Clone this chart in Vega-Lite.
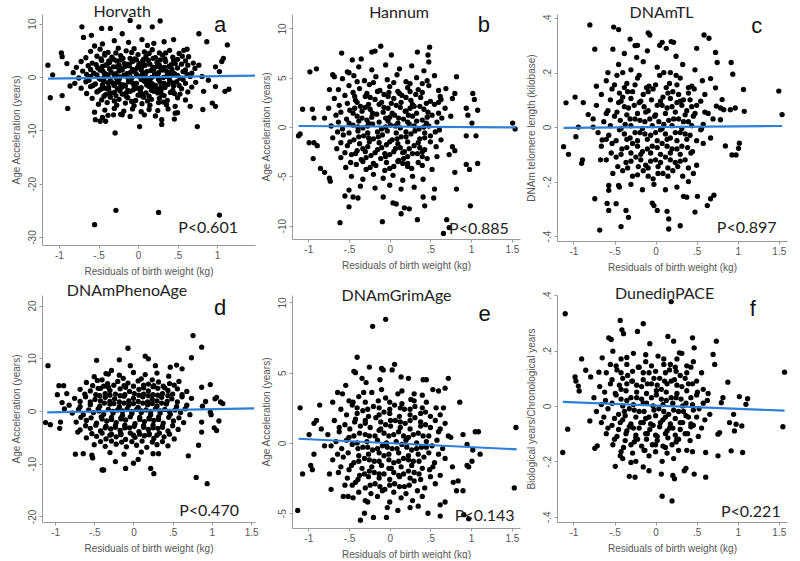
{
"$schema": "https://vega.github.io/schema/vega-lite/v6.json",
"background": "white",
"padding": {"left": 10, "top": 4, "right": 0, "bottom": 0},
"config": {
 "view": {"stroke": null},
 "circle": {"size": 28, "color": "#000", "opacity": 1},
 "axis": {"grid": false, "domainColor": "#9a9a9a", "tickColor": "#9a9a9a", "tickSize": 3, "labelColor": "#555", "titleColor": "#555", "labelFont": "Liberation Sans", "titleFont": "Liberation Sans", "labelFontSize": 10, "titleFontSize": 10, "titleFontWeight": "normal", "labelPadding": 2, "titlePadding": 6, "labelExpr": "replace(replace(datum.label, '0.', '.'), '\u2212', '-')", "labelOverlap": false, "labelFlush": false},
 "axisY": {"labelAngle": -90, "labelAlign": "center", "labelBaseline": "bottom"}
},
"datasets": {
"a": [{"x":-1.14,"y":2.2},{"x":-1.08,"y":0.4},{"x":-1.11,"y":-3.9},{"x":-0.97,"y":4.5},{"x":-0.96,"y":3.8},{"x":-0.96,"y":-3.5},{"x":-0.89,"y":-5.9},{"x":-0.9,"y":2.5},{"x":-0.86,"y":-1.7},{"x":-0.71,"y":9.4},{"x":-0.69,"y":7.4},{"x":-0.59,"y":7.8},{"x":-0.46,"y":9.1},{"x":-0.35,"y":9.1},{"x":-0.31,"y":-7.1},{"x":-0.29,"y":-10.5},{"x":-0.2,"y":8.1},{"x":-0.1,"y":10.6},{"x":0.01,"y":9.4},{"x":0.02,"y":-9.3},{"x":0.18,"y":9.4},{"x":0.28,"y":10.5},{"x":0.3,"y":-8},{"x":0.3,"y":-8.9},{"x":0.45,"y":7},{"x":0.46,"y":-7.9},{"x":0.47,"y":-6.8},{"x":0.58,"y":5},{"x":0.66,"y":-5.5},{"x":0.75,"y":-9.3},{"x":0.77,"y":8.1},{"x":0.87,"y":6.6},{"x":0.83,"y":-2.7},{"x":0.82,"y":-6.1},{"x":0.94,"y":-4.9},{"x":0.98,"y":-5.5},{"x":0.98,"y":1.9},{"x":1.03,"y":1},{"x":1.06,"y":2.9},{"x":1.08,"y":3.5},{"x":1.13,"y":6},{"x":1.15,"y":-2.3},{"x":1.1,"y":-2.7},{"x":0.98,"y":-1.8},{"x":0.89,"y":-0.6},{"x":0.81,"y":0.1},{"x":0.77,"y":2.2},{"x":0.64,"y":3.8},{"x":-0.55,"y":-27.7},{"x":-0.28,"y":-25},{"x":0.26,"y":-25.4},{"x":1.03,"y":-25.9},{"x":-0.54,"y":-8},{"x":-0.48,"y":-8.3},{"x":-0.41,"y":-8.3},{"x":-0.2,"y":-7.1},
{"x":-0.45,"y":6.2},{"x":-0.3,"y":6.8},{"x":-0.12,"y":6.5},{"x":0.05,"y":7},{"x":0.2,"y":6.3},{"x":0.33,"y":6.6},{"x":-0.55,"y":5.8},{"x":0.12,"y":5.9},
{"x":-0.6,"y":4.8},{"x":-0.48,"y":5.2},{"x":-0.38,"y":4.6},{"x":-0.25,"y":5.4},{"x":-0.15,"y":4.9},{"x":-0.05,"y":5.3},{"x":0.08,"y":4.7},{"x":0.18,"y":5.1},{"x":0.27,"y":4.5},{"x":0.4,"y":5},{"x":0.52,"y":4.4},{"x":0.62,"y":5.2},
{"x":-0.66,"y":3.6},{"x":-0.52,"y":3.9},{"x":-0.42,"y":4.1},{"x":-0.33,"y":3.7},{"x":-0.22,"y":4},{"x":-0.1,"y":3.5},{"x":0,"y":4.2},{"x":0.1,"y":3.8},{"x":0.22,"y":3.6},{"x":0.31,"y":4.1},{"x":0.44,"y":3.7},{"x":0.56,"y":3.9},{"x":-0.02,"y":3.2},
{"x":-0.72,"y":2.9},{"x":-0.58,"y":2.6},{"x":-0.46,"y":3.1},{"x":-0.36,"y":2.7},{"x":-0.27,"y":3},{"x":-0.17,"y":2.5},{"x":-0.07,"y":2.9},{"x":0.03,"y":2.6},{"x":0.13,"y":3.1},{"x":0.24,"y":2.7},{"x":0.35,"y":2.9},{"x":0.47,"y":2.5},{"x":0.6,"y":3},{"x":0.7,"y":2.6},
{"x":-0.78,"y":1.8},{"x":-0.63,"y":2.1},{"x":-0.51,"y":1.7},{"x":-0.41,"y":2.2},{"x":-0.31,"y":1.9},{"x":-0.21,"y":1.6},{"x":-0.11,"y":2.1},{"x":-0.01,"y":1.7},{"x":0.09,"y":2.2},{"x":0.19,"y":1.8},{"x":0.29,"y":1.5},{"x":0.39,"y":2},{"x":0.5,"y":1.7},{"x":0.63,"y":2.2},{"x":0.72,"y":1.6},
{"x":-0.82,"y":0.8},{"x":-0.7,"y":1.1},{"x":-0.56,"y":0.7},{"x":-0.45,"y":1.2},{"x":-0.34,"y":0.9},{"x":-0.24,"y":1.1},{"x":-0.14,"y":0.6},{"x":-0.04,"y":1},{"x":0.06,"y":0.7},{"x":0.16,"y":1.2},{"x":0.26,"y":0.8},{"x":0.36,"y":1.1},{"x":0.46,"y":0.6},{"x":0.57,"y":1},{"x":0.68,"y":0.7},
{"x":-0.75,"y":-0.2},{"x":-0.6,"y":0.1},{"x":-0.49,"y":-0.3},{"x":-0.38,"y":0.2},{"x":-0.28,"y":-0.1},{"x":-0.18,"y":0.3},{"x":-0.08,"y":-0.2},{"x":0.02,"y":0.1},{"x":0.12,"y":-0.3},{"x":0.22,"y":0.2},{"x":0.32,"y":-0.1},{"x":0.42,"y":0.3},{"x":0.53,"y":-0.2},{"x":0.66,"y":0.1},
{"x":-0.8,"y":-1.2},{"x":-0.66,"y":-0.9},{"x":-0.54,"y":-1.3},{"x":-0.43,"y":-0.8},{"x":-0.32,"y":-1.1},{"x":-0.22,"y":-1.4},{"x":-0.12,"y":-0.9},{"x":-0.02,"y":-1.2},{"x":0.08,"y":-0.8},{"x":0.18,"y":-1.3},{"x":0.28,"y":-1},{"x":0.38,"y":-1.4},{"x":0.49,"y":-0.9},{"x":0.6,"y":-1.2},{"x":0.73,"y":-1},
{"x":-0.72,"y":-2.1},{"x":-0.6,"y":-1.8},{"x":-0.47,"y":-2.3},{"x":-0.37,"y":-1.9},{"x":-0.26,"y":-2.2},{"x":-0.16,"y":-1.7},{"x":-0.06,"y":-2.4},{"x":0.04,"y":-2},{"x":0.14,"y":-1.8},{"x":0.24,"y":-2.3},{"x":0.34,"y":-2},{"x":0.45,"y":-1.7},{"x":0.55,"y":-2.2},{"x":0.68,"y":-1.9},
{"x":-0.65,"y":-3.1},{"x":-0.52,"y":-2.8},{"x":-0.41,"y":-3.3},{"x":-0.3,"y":-2.9},{"x":-0.2,"y":-3.2},{"x":-0.1,"y":-2.7},{"x":0,"y":-3.4},{"x":0.1,"y":-3},{"x":0.2,"y":-2.7},{"x":0.3,"y":-3.3},{"x":0.41,"y":-2.9},{"x":0.53,"y":-3.2},{"x":0.63,"y":-2.8},
{"x":-0.58,"y":-4},{"x":-0.46,"y":-4.3},{"x":-0.35,"y":-3.8},{"x":-0.24,"y":-4.2},{"x":-0.13,"y":-3.9},{"x":-0.03,"y":-4.4},{"x":0.07,"y":-3.8},{"x":0.17,"y":-4.2},{"x":0.27,"y":-4},{"x":0.37,"y":-4.4},{"x":0.5,"y":-3.9},{"x":0.6,"y":-4.3},
{"x":-0.5,"y":-5.1},{"x":-0.39,"y":-4.8},{"x":-0.27,"y":-5.3},{"x":-0.16,"y":-4.9},{"x":-0.05,"y":-5.4},{"x":0.05,"y":-5},{"x":0.15,"y":-5.3},{"x":0.26,"y":-4.8},{"x":0.36,"y":-5.2},{"x":0.47,"y":-5.5},
{"x":-0.42,"y":-6.2},{"x":-0.3,"y":-5.9},{"x":-0.18,"y":-6.4},{"x":-0.07,"y":-6},{"x":0.04,"y":-6.5},{"x":0.14,"y":-6.1},{"x":0.25,"y":-6.3},{"x":0.38,"y":-6},{"x":-0.55,"y":-6.6},{"x":0.5,"y":-6.7},
{"x":-0.38,"y":-7.2},{"x":-0.22,"y":-7},{"x":-0.1,"y":-7.4},{"x":0.08,"y":-7.1},{"x":0.22,"y":-7.3},{"x":-0.45,"y":-7.6},
{"x":-0.47,"y":3.4},{"x":-0.31,"y":3.3},{"x":-0.19,"y":3.5},{"x":-0.04,"y":3.4},{"x":0.07,"y":3.3},{"x":0.19,"y":3.5},{"x":0.34,"y":3.4},{"x":0.5,"y":3.3},
{"x":-0.53,"y":2.3},{"x":-0.39,"y":2.4},{"x":-0.24,"y":2.2},{"x":-0.12,"y":2.4},{"x":0.01,"y":2.3},{"x":0.15,"y":2.4},{"x":0.27,"y":2.2},{"x":0.42,"y":2.3},{"x":0.55,"y":2.4},
{"x":-0.6,"y":1.4},{"x":-0.48,"y":1.3},{"x":-0.36,"y":1.5},{"x":-0.2,"y":1.3},{"x":-0.07,"y":1.4},{"x":0.04,"y":1.3},{"x":0.2,"y":1.5},{"x":0.31,"y":1.3},{"x":0.43,"y":1.4},{"x":0.6,"y":1.3},
{"x":-0.65,"y":0.5},{"x":-0.52,"y":0.4},{"x":-0.4,"y":0.5},{"x":-0.3,"y":0.3},{"x":-0.15,"y":0.4},{"x":-0.02,"y":0.5},{"x":0.09,"y":0.4},{"x":0.25,"y":0.5},{"x":0.37,"y":0.4},{"x":0.5,"y":0.3},{"x":0.62,"y":0.5},
{"x":-0.62,"y":-0.6},{"x":-0.47,"y":-0.5},{"x":-0.35,"y":-0.7},{"x":-0.24,"y":-0.5},{"x":-0.1,"y":-0.6},{"x":0.04,"y":-0.5},{"x":0.15,"y":-0.7},{"x":0.26,"y":-0.5},{"x":0.4,"y":-0.6},{"x":0.57,"y":-0.5},
{"x":-0.57,"y":-1.6},{"x":-0.45,"y":-1.5},{"x":-0.3,"y":-1.6},{"x":-0.18,"y":-1.5},{"x":-0.05,"y":-1.6},{"x":0.11,"y":-1.5},{"x":0.22,"y":-1.6},{"x":0.36,"y":-1.5},{"x":0.52,"y":-1.6},
{"x":-0.5,"y":-2.6},{"x":-0.37,"y":-2.5},{"x":-0.23,"y":-2.6},{"x":-0.13,"y":-2.5},{"x":0.03,"y":-2.6},{"x":0.17,"y":-2.5},{"x":0.29,"y":-2.6},{"x":0.44,"y":-2.5},
{"x":-0.43,"y":-3.6},{"x":-0.28,"y":-3.5},{"x":-0.15,"y":-3.6},{"x":0.04,"y":-3.5},{"x":0.14,"y":-3.6},{"x":0.33,"y":-3.5},
{"x":-0.42,"y":4.4},{"x":-0.28,"y":4.5},{"x":-0.08,"y":4.6},{"x":0.14,"y":4.4},{"x":0.35,"y":4.5},{"x":-0.37,"y":3},{"x":-0.22,"y":3.2},{"x":0.06,"y":3},{"x":0.28,"y":3.2},{"x":0.45,"y":3.1},{"x":-0.45,"y":2},{"x":-0.27,"y":1.9},{"x":-0.16,"y":2},{"x":0.05,"y":1.9},{"x":0.24,"y":2},{"x":0.33,"y":1.8},{"x":-0.43,"y":0.8},{"x":-0.28,"y":0.6},{"x":-0.1,"y":0.8},{"x":0.11,"y":1},{"x":0.21,"y":0.6},{"x":0.41,"y":0.8},{"x":-0.43,"y":-0.1},{"x":-0.23,"y":0},{"x":-0.13,"y":-0.1},{"x":0.07,"y":0},{"x":0.17,"y":-0.1},{"x":0.37,"y":0.1},{"x":-0.38,"y":-1.1},{"x":-0.27,"y":-1},{"x":-0.07,"y":-1.1},{"x":0.13,"y":-1.1},{"x":0.33,"y":-1.2},{"x":0.44,"y":-1.1},{"x":-0.42,"y":-2.1},{"x":-0.21,"y":-2},{"x":-0.01,"y":-2.1},{"x":0.19,"y":-2.1},{"x":0.29,"y":-1.9},{"x":-0.35,"y":-3.1},{"x":-0.15,"y":-3},{"x":0.05,"y":-3.2},{"x":0.25,"y":-3},{"x":0.46,"y":-3.1},{"x":-0.3,"y":-4.5},{"x":-0.08,"y":-4.6},{"x":0.12,"y":-4.5},{"x":0.32,"y":-4.7}],
"b": [{"x":-1.12,"y":-0.9},{"x":-1.1,"y":-0.7},{"x":-1.07,"y":1.8},{"x":-0.95,"y":1.8},{"x":-0.98,"y":5.6},{"x":-0.9,"y":5.9},{"x":-0.93,"y":0.9},{"x":-0.99,"y":-1.6},{"x":-0.93,"y":-1.6},{"x":-0.94,"y":-3.2},{"x":-0.89,"y":-1.9},{"x":-0.85,"y":-4.2},{"x":-0.8,"y":-4.6},{"x":-0.74,"y":-5.2},{"x":-0.73,"y":-5.5},{"x":-0.74,"y":3.8},{"x":-0.7,"y":5.3},{"x":-0.68,"y":5.1},{"x":-0.61,"y":-9.7},{"x":-0.59,"y":7.5},{"x":-0.52,"y":5.6},{"x":-0.55,"y":-7},{"x":-0.5,"y":-8.1},{"x":-0.45,"y":-7.1},{"x":-0.39,"y":-7.2},{"x":-0.46,"y":6.8},{"x":-0.35,"y":6.9},{"x":-0.22,"y":7.6},{"x":-0.18,"y":7.7},{"x":-0.11,"y":8.2},{"x":-0.09,"y":-9.6},{"x":-0.08,"y":-7.1},{"x":0.02,"y":7.3},{"x":0.04,"y":-7.7},{"x":0.08,"y":-7.8},{"x":0.14,"y":-8.8},{"x":0.18,"y":-8.2},{"x":0.24,"y":-8.3},{"x":0.34,"y":7.6},{"x":0.34,"y":-9.4},{"x":0.41,"y":-7.1},{"x":0.43,"y":-8},{"x":0.49,"y":8.1},{"x":0.48,"y":6.6},{"x":0.47,"y":7.3},{"x":0.54,"y":-7.2},{"x":0.55,"y":-6.3},{"x":0.66,"y":-10.8},{"x":0.7,"y":-9.4},{"x":0.73,"y":-10.2},{"x":0.69,"y":3.9},{"x":0.63,"y":2.8},{"x":0.77,"y":2.9},{"x":0.8,"y":3.4},{"x":0.82,"y":5.1},{"x":0.8,"y":-4.6},{"x":0.82,"y":-6.3},{"x":0.94,"y":1.9},{"x":0.96,"y":1.2},{"x":0.94,"y":-0.9},{"x":0.98,"y":-4.3},{"x":0.94,"y":-3.8},{"x":0.99,"y":-8},{"x":1.02,"y":3.4},{"x":1.04,"y":2.8},{"x":1.08,"y":1.7},{"x":1.06,"y":-0.9},{"x":1.08,"y":-3.7},{"x":1.01,"y":0.4},{"x":1.51,"y":0.4},{"x":1.54,"y":-0.2},{"x":0.77,"y":-2},{"x":0.8,"y":-2.4},{"x":0.73,"y":-2.8},
{"x":-0.38,"y":6.1},{"x":-0.22,"y":5.8},{"x":-0.05,"y":6.3},{"x":0.12,"y":5.9},{"x":0.27,"y":6.2},{"x":0.42,"y":5.7},{"x":-0.5,"y":5.5},
{"x":-0.58,"y":4.9},{"x":-0.44,"y":5.2},{"x":-0.31,"y":4.7},{"x":-0.17,"y":5.1},{"x":-0.03,"y":4.8},{"x":0.09,"y":5.3},{"x":0.2,"y":4.6},{"x":0.33,"y":5},{"x":0.46,"y":4.7},{"x":0.55,"y":5.2},
{"x":-0.63,"y":3.8},{"x":-0.5,"y":4.2},{"x":-0.37,"y":3.9},{"x":-0.25,"y":4.3},{"x":-0.12,"y":3.7},{"x":0,"y":4.1},{"x":0.1,"y":3.6},{"x":0.22,"y":4},{"x":0.35,"y":3.8},{"x":0.48,"y":4.2},{"x":0.6,"y":3.7},
{"x":-0.68,"y":2.9},{"x":-0.55,"y":3.2},{"x":-0.42,"y":2.7},{"x":-0.3,"y":3.1},{"x":-0.18,"y":2.8},{"x":-0.07,"y":3.3},{"x":0.05,"y":2.9},{"x":0.15,"y":3.2},{"x":0.26,"y":2.7},{"x":0.38,"y":3},{"x":0.5,"y":2.6},{"x":0.62,"y":3.1},
{"x":-0.75,"y":1.9},{"x":-0.62,"y":2.2},{"x":-0.49,"y":1.7},{"x":-0.36,"y":2.1},{"x":-0.24,"y":1.8},{"x":-0.13,"y":2.3},{"x":-0.02,"y":1.9},{"x":0.08,"y":2.2},{"x":0.19,"y":1.6},{"x":0.3,"y":2.1},{"x":0.42,"y":1.8},{"x":0.55,"y":2.3},{"x":0.68,"y":1.9},
{"x":-0.8,"y":0.9},{"x":-0.66,"y":1.2},{"x":-0.53,"y":0.8},{"x":-0.4,"y":1.1},{"x":-0.28,"y":0.7},{"x":-0.16,"y":1.3},{"x":-0.05,"y":0.9},{"x":0.06,"y":1.2},{"x":0.17,"y":0.8},{"x":0.28,"y":1.1},{"x":0.4,"y":0.7},{"x":0.52,"y":1.2},{"x":0.64,"y":0.9},{"x":0.75,"y":1.1},
{"x":-0.72,"y":0.1},{"x":-0.58,"y":-0.2},{"x":-0.45,"y":0.2},{"x":-0.33,"y":-0.1},{"x":-0.21,"y":0.3},{"x":-0.1,"y":-0.2},{"x":0.01,"y":0.2},{"x":0.13,"y":-0.1},{"x":0.24,"y":0.3},{"x":0.36,"y":-0.2},{"x":0.48,"y":0.1},{"x":0.61,"y":-0.3},
{"x":-0.7,"y":-1.1},{"x":-0.57,"y":-0.8},{"x":-0.44,"y":-1.3},{"x":-0.32,"y":-0.9},{"x":-0.2,"y":-1.2},{"x":-0.09,"y":-0.8},{"x":0.03,"y":-1.3},{"x":0.14,"y":-1},{"x":0.26,"y":-0.7},{"x":0.37,"y":-1.2},{"x":0.5,"y":-0.9},{"x":0.63,"y":-1.3},
{"x":-0.65,"y":-2.2},{"x":-0.52,"y":-1.9},{"x":-0.4,"y":-2.4},{"x":-0.27,"y":-2},{"x":-0.15,"y":-2.3},{"x":-0.04,"y":-1.8},{"x":0.07,"y":-2.2},{"x":0.18,"y":-2.5},{"x":0.3,"y":-1.9},{"x":0.43,"y":-2.3},{"x":0.57,"y":-2},
{"x":-0.6,"y":-3.1},{"x":-0.47,"y":-2.8},{"x":-0.35,"y":-3.3},{"x":-0.23,"y":-2.9},{"x":-0.11,"y":-3.2},{"x":0,"y":-2.8},{"x":0.11,"y":-3.4},{"x":0.22,"y":-3},{"x":0.34,"y":-2.7},{"x":0.46,"y":-3.2},{"x":0.58,"y":-3},
{"x":-0.54,"y":-4.1},{"x":-0.41,"y":-3.8},{"x":-0.29,"y":-4.3},{"x":-0.17,"y":-3.9},{"x":-0.06,"y":-4.4},{"x":0.05,"y":-4},{"x":0.16,"y":-3.7},{"x":0.27,"y":-4.2},{"x":0.4,"y":-3.9},{"x":0.52,"y":-4.3},
{"x":-0.47,"y":-5},{"x":-0.33,"y":-5.3},{"x":-0.2,"y":-4.8},{"x":-0.08,"y":-5.2},{"x":0.04,"y":-4.9},{"x":0.16,"y":-5.4},{"x":0.28,"y":-5},{"x":0.41,"y":-5.3},
{"x":-0.36,"y":-6},{"x":-0.18,"y":-6.2},{"x":0,"y":-5.9},{"x":0.14,"y":-6.3},{"x":0.3,"y":-6.1},{"x":-0.5,"y":-6.4},
{"x":-0.45,"y":3.5},{"x":-0.28,"y":3.4},{"x":-0.15,"y":3.6},{"x":-0.01,"y":3.5},{"x":0.12,"y":3.4},{"x":0.25,"y":3.6},{"x":0.4,"y":3.5},
{"x":-0.52,"y":2.4},{"x":-0.4,"y":2.5},{"x":-0.26,"y":2.3},{"x":-0.1,"y":2.5},{"x":0.02,"y":2.4},{"x":0.14,"y":2.5},{"x":0.28,"y":2.3},{"x":0.45,"y":2.4},{"x":0.6,"y":2.5},
{"x":-0.6,"y":1.5},{"x":-0.45,"y":1.4},{"x":-0.34,"y":1.6},{"x":-0.21,"y":1.4},{"x":-0.08,"y":1.5},{"x":0.03,"y":1.4},{"x":0.2,"y":1.6},{"x":0.33,"y":1.4},{"x":0.47,"y":1.5},{"x":0.6,"y":1.4},
{"x":-0.63,"y":0.5},{"x":-0.5,"y":0.4},{"x":-0.38,"y":0.6},{"x":-0.26,"y":0.4},{"x":-0.13,"y":0.5},{"x":-0.02,"y":0.6},{"x":0.1,"y":0.4},{"x":0.22,"y":0.5},{"x":0.33,"y":0.6},{"x":0.45,"y":0.4},{"x":0.58,"y":0.5},
{"x":-0.64,"y":-0.5},{"x":-0.5,"y":-0.6},{"x":-0.39,"y":-0.4},{"x":-0.27,"y":-0.6},{"x":-0.15,"y":-0.5},{"x":-0.03,"y":-0.4},{"x":0.08,"y":-0.6},{"x":0.2,"y":-0.5},{"x":0.31,"y":-0.4},{"x":0.43,"y":-0.6},{"x":0.56,"y":-0.5},
{"x":-0.6,"y":-1.6},{"x":-0.49,"y":-1.5},{"x":-0.37,"y":-1.7},{"x":-0.25,"y":-1.5},{"x":-0.13,"y":-1.6},{"x":0,"y":-1.5},{"x":0.1,"y":-1.7},{"x":0.22,"y":-1.5},{"x":0.35,"y":-1.6},{"x":0.5,"y":-1.5},
{"x":-0.55,"y":-2.6},{"x":-0.42,"y":-2.7},{"x":-0.3,"y":-2.5},{"x":-0.18,"y":-2.6},{"x":-0.06,"y":-2.7},{"x":0.05,"y":-2.5},{"x":0.16,"y":-2.6},{"x":0.28,"y":-2.7},{"x":0.4,"y":-2.5},
{"x":-0.48,"y":-3.6},{"x":-0.33,"y":-3.5},{"x":-0.2,"y":-3.7},{"x":-0.04,"y":-3.6},{"x":0.1,"y":-3.5},{"x":0.22,"y":-3.7},{"x":0.35,"y":-3.6},
{"x":-0.4,"y":4.6},{"x":-0.2,"y":4.5},{"x":0.05,"y":4.5},{"x":0.25,"y":4.4},{"x":0.4,"y":4.4},{"x":-0.43,"y":3.1},{"x":-0.24,"y":3},{"x":-0.02,"y":3.1},{"x":0.2,"y":3},{"x":0.32,"y":3.3},{"x":-0.43,"y":1.9},{"x":-0.3,"y":2},{"x":-0.07,"y":2},{"x":0.13,"y":2},{"x":0.25,"y":1.9},{"x":0.37,"y":2.1},{"x":-0.34,"y":0.9},{"x":-0.22,"y":1},{"x":0,"y":1},{"x":0.11,"y":0.9},{"x":0.23,"y":1.2},{"x":0.46,"y":1},{"x":-0.39,"y":0},{"x":-0.27,"y":0.1},{"x":-0.05,"y":0},{"x":0.07,"y":0.1},{"x":0.3,"y":0.1},{"x":0.42,"y":0},{"x":-0.38,"y":-1},{"x":-0.26,"y":-1.1},{"x":-0.14,"y":-1},{"x":0.09,"y":-1.2},{"x":0.2,"y":-1},{"x":0.43,"y":-1.1},{"x":-0.33,"y":-2.2},{"x":-0.1,"y":-2.1},{"x":0.13,"y":-2.1},{"x":0.24,"y":-2.2},{"x":0.37,"y":-2.1},{"x":-0.29,"y":-3.1},{"x":-0.05,"y":-3},{"x":0.17,"y":-3.2},{"x":0.4,"y":-3},{"x":-0.24,"y":-4.1},{"x":0,"y":-4.2},{"x":0.22,"y":-4}],
"c": [{"x":-1.12,"y":-0.072},{"x":-1.06,"y":-0.1},{"x":-1.09,"y":0.089},{"x":-0.98,"y":0.11},{"x":-0.97,"y":-0.035},{"x":-0.94,"y":0},{"x":-0.9,"y":-0.133},{"x":-0.89,"y":-0.12},{"x":-0.88,"y":0.09},{"x":-0.82,"y":0.046},{"x":-0.8,"y":0.375},{"x":-0.74,"y":0.286},{"x":-0.76,"y":0},{"x":-0.74,"y":-0.263},{"x":-0.68,"y":-0.378},{"x":-0.72,"y":0.15},{"x":-0.65,"y":-0.047},{"x":-0.67,"y":-0.12},{"x":-0.57,"y":-0.214},{"x":-0.57,"y":-0.232},{"x":-0.59,"y":-0.28},{"x":-0.57,"y":-0.306},{"x":-0.51,"y":0.367},{"x":-0.45,"y":0.358},{"x":-0.52,"y":0.286},{"x":-0.48,"y":-0.281},{"x":-0.45,"y":-0.214},{"x":-0.42,"y":-0.365},{"x":-0.36,"y":-0.306},{"x":-0.33,"y":-0.331},{"x":-0.31,"y":0.323},{"x":-0.25,"y":0.299},{"x":-0.23,"y":0.256},{"x":-0.09,"y":0.346},{"x":-0.07,"y":0.338},{"x":-0.04,"y":-0.279},{"x":-0.02,"y":-0.288},{"x":0.02,"y":-0.306},{"x":0.08,"y":0.311},{"x":0.13,"y":0.289},{"x":0.16,"y":-0.374},{"x":0.16,"y":-0.337},{"x":0.14,"y":-0.309},{"x":0.19,"y":0.314},{"x":0.22,"y":0.311},{"x":0.3,"y":-0.362},{"x":0.34,"y":-0.254},{"x":0.38,"y":-0.257},{"x":0.48,"y":-0.312},{"x":0.5,"y":0.289},{"x":0.51,"y":-0.254},{"x":0.59,"y":0.338},{"x":0.65,"y":0.326},{"x":0.67,"y":0.178},{"x":0.63,"y":-0.288},{"x":0.67,"y":-0.263},{"x":0.71,"y":-0.25},{"x":0.73,"y":0.274},{"x":0.75,"y":0.237},{"x":0.81,"y":0.101},{"x":0.83,"y":0.064},{"x":0.85,"y":-0.069},{"x":0.92,"y":0.237},{"x":0.94,"y":0.194},{"x":0.91,"y":0.064},{"x":0.97,"y":0.07},{"x":0.93,"y":-0.102},{"x":0.98,"y":-0.102},{"x":1.01,"y":-0.078},{"x":1.02,"y":-0.059},{"x":1.07,"y":0.138},{"x":1.08,"y":0.058},{"x":1.5,"y":0.132},{"x":1.54,"y":0.046},{"x":0.73,"y":0.144},{"x":0.74,"y":0.077},{"x":0.79,"y":0.07},{"x":0.79,"y":0.027},
{"x":-0.45,"y":0.23},{"x":-0.3,"y":0.21},{"x":-0.15,"y":0.24},{"x":0.02,"y":0.22},{"x":0.18,"y":0.2},{"x":0.33,"y":0.23},{"x":0.48,"y":0.21},{"x":-0.58,"y":0.2},
{"x":-0.6,"y":0.17},{"x":-0.47,"y":0.19},{"x":-0.35,"y":0.16},{"x":-0.22,"y":0.18},{"x":-0.08,"y":0.15},{"x":0.05,"y":0.19},{"x":0.17,"y":0.16},{"x":0.3,"y":0.18},{"x":0.44,"y":0.15},{"x":0.57,"y":0.17},
{"x":-0.66,"y":0.12},{"x":-0.53,"y":0.14},{"x":-0.4,"y":0.11},{"x":-0.28,"y":0.13},{"x":-0.15,"y":0.12},{"x":-0.03,"y":0.14},{"x":0.09,"y":0.11},{"x":0.21,"y":0.13},{"x":0.34,"y":0.1},{"x":0.47,"y":0.14},{"x":0.6,"y":0.12},
{"x":-0.72,"y":0.08},{"x":-0.58,"y":0.06},{"x":-0.45,"y":0.09},{"x":-0.33,"y":0.07},{"x":-0.2,"y":0.09},{"x":-0.09,"y":0.06},{"x":0.02,"y":0.08},{"x":0.14,"y":0.07},{"x":0.26,"y":0.09},{"x":0.38,"y":0.06},{"x":0.5,"y":0.08},{"x":0.64,"y":0.05},
{"x":-0.76,"y":0.03},{"x":-0.63,"y":0.02},{"x":-0.5,"y":0.04},{"x":-0.37,"y":0.01},{"x":-0.25,"y":0.03},{"x":-0.13,"y":0.02},{"x":-0.01,"y":0.04},{"x":0.1,"y":0.01},{"x":0.22,"y":0.03},{"x":0.34,"y":0.02},{"x":0.46,"y":0.04},{"x":0.58,"y":0.01},{"x":0.7,"y":0.03},
{"x":-0.7,"y":-0.02},{"x":-0.57,"y":-0.03},{"x":-0.44,"y":-0.01},{"x":-0.31,"y":-0.04},{"x":-0.19,"y":-0.02},{"x":-0.06,"y":-0.03},{"x":0.06,"y":-0.01},{"x":0.18,"y":-0.04},{"x":0.3,"y":-0.02},{"x":0.42,"y":-0.03},{"x":0.55,"y":-0.01},{"x":0.67,"y":-0.04},
{"x":-0.66,"y":-0.07},{"x":-0.53,"y":-0.06},{"x":-0.41,"y":-0.08},{"x":-0.28,"y":-0.06},{"x":-0.16,"y":-0.09},{"x":-0.04,"y":-0.07},{"x":0.08,"y":-0.06},{"x":0.2,"y":-0.08},{"x":0.32,"y":-0.07},{"x":0.45,"y":-0.09},{"x":0.58,"y":-0.06},
{"x":-0.6,"y":-0.12},{"x":-0.48,"y":-0.11},{"x":-0.36,"y":-0.13},{"x":-0.24,"y":-0.11},{"x":-0.12,"y":-0.14},{"x":0,"y":-0.12},{"x":0.12,"y":-0.11},{"x":0.24,"y":-0.13},{"x":0.36,"y":-0.12},{"x":0.5,"y":-0.14},
{"x":-0.52,"y":-0.17},{"x":-0.4,"y":-0.16},{"x":-0.28,"y":-0.18},{"x":-0.15,"y":-0.16},{"x":-0.03,"y":-0.19},{"x":0.09,"y":-0.17},{"x":0.21,"y":-0.16},{"x":0.33,"y":-0.18},{"x":0.46,"y":-0.17},
{"x":-0.44,"y":-0.22},{"x":-0.3,"y":-0.21},{"x":-0.16,"y":-0.23},{"x":-0.02,"y":-0.21},{"x":0.12,"y":-0.23},{"x":0.26,"y":-0.22},{"x":0.4,"y":-0.2},
{"x":-0.38,"y":0.27},{"x":-0.1,"y":0.28},{"x":0.25,"y":0.26},{"x":0.05,"y":0.3},{"x":-0.22,"y":0.3},
{"x":-0.5,"y":0.155},{"x":-0.38,"y":0.145},{"x":-0.25,"y":0.155},{"x":-0.11,"y":0.145},{"x":0,"y":0.155},{"x":0.13,"y":0.145},{"x":0.26,"y":0.155},{"x":0.4,"y":0.145},
{"x":-0.55,"y":0.1},{"x":-0.42,"y":0.095},{"x":-0.3,"y":0.105},{"x":-0.18,"y":0.095},{"x":-0.05,"y":0.1},{"x":0.06,"y":0.095},{"x":0.18,"y":0.105},{"x":0.3,"y":0.095},{"x":0.42,"y":0.1},{"x":0.55,"y":0.095},
{"x":-0.6,"y":0.05},{"x":-0.47,"y":0.055},{"x":-0.35,"y":0.045},{"x":-0.22,"y":0.05},{"x":-0.12,"y":0.055},{"x":0,"y":0.045},{"x":0.12,"y":0.05},{"x":0.24,"y":0.055},{"x":0.36,"y":0.045},{"x":0.48,"y":0.05},{"x":0.6,"y":0.055},
{"x":-0.55,"y":0.005},{"x":-0.42,"y":-0.005},{"x":-0.3,"y":0.005},{"x":-0.16,"y":-0.005},{"x":-0.04,"y":0.005},{"x":0.08,"y":-0.005},{"x":0.2,"y":0.005},{"x":0.32,"y":-0.005},{"x":0.44,"y":0.005},{"x":0.56,"y":-0.005},
{"x":-0.6,"y":-0.045},{"x":-0.48,"y":-0.05},{"x":-0.35,"y":-0.045},{"x":-0.22,"y":-0.05},{"x":-0.1,"y":-0.045},{"x":0.02,"y":-0.05},{"x":0.14,"y":-0.045},{"x":0.26,"y":-0.05},{"x":0.38,"y":-0.045},{"x":0.5,"y":-0.05},
{"x":-0.54,"y":-0.095},{"x":-0.42,"y":-0.1},{"x":-0.3,"y":-0.095},{"x":-0.18,"y":-0.1},{"x":-0.06,"y":-0.095},{"x":0.06,"y":-0.1},{"x":0.18,"y":-0.095},{"x":0.3,"y":-0.1},{"x":0.43,"y":-0.095},
{"x":-0.46,"y":-0.145},{"x":-0.34,"y":-0.15},{"x":-0.21,"y":-0.145},{"x":-0.09,"y":-0.15},{"x":0.03,"y":-0.145},{"x":0.15,"y":-0.15},{"x":0.27,"y":-0.145},{"x":0.4,"y":-0.15},
{"x":-0.4,"y":0.2},{"x":-0.2,"y":0.19},{"x":0.1,"y":0.2},{"x":0.25,"y":0.19},{"x":-0.44,"y":0.125},{"x":-0.34,"y":0.13},{"x":-0.09,"y":0.13},{"x":0.15,"y":0.125},{"x":0.28,"y":0.12},{"x":0.4,"y":0.125},{"x":-0.38,"y":0.075},{"x":-0.26,"y":0.08},{"x":-0.14,"y":0.075},{"x":0.08,"y":0.08},{"x":0.2,"y":0.075},{"x":0.32,"y":0.08},{"x":0.44,"y":0.075},{"x":-0.43,"y":0.025},{"x":-0.31,"y":0.03},{"x":-0.19,"y":0.025},{"x":-0.07,"y":0.03},{"x":0.04,"y":0.02},{"x":0.16,"y":0.025},{"x":0.28,"y":0.03},{"x":0.4,"y":0.02},{"x":-0.38,"y":-0.025},{"x":-0.25,"y":-0.02},{"x":-0.13,"y":-0.025},{"x":0,"y":-0.02},{"x":0.12,"y":-0.025},{"x":0.24,"y":-0.02},{"x":0.36,"y":-0.025},{"x":-0.35,"y":-0.075},{"x":-0.22,"y":-0.07},{"x":-0.1,"y":-0.08},{"x":0.02,"y":-0.075},{"x":0.14,"y":-0.07},{"x":0.26,"y":-0.08},{"x":0.39,"y":-0.075},{"x":-0.3,"y":-0.125},{"x":-0.18,"y":-0.12},{"x":-0.06,"y":-0.125},{"x":0.06,"y":-0.13},{"x":0.18,"y":-0.12},{"x":0.3,"y":-0.125},{"x":-0.22,"y":-0.175},{"x":-0.09,"y":-0.18},{"x":0.03,"y":-0.17},{"x":0.15,"y":-0.18}],
"d": [{"x":-1.12,"y":-2.2},{"x":-1.06,"y":-2.6},{"x":-1.09,"y":8.6},{"x":-0.97,"y":3.1},{"x":-0.95,"y":4.8},{"x":-0.91,"y":1.6},{"x":-0.94,"y":-3.3},{"x":-0.93,"y":-2.1},{"x":-0.89,"y":4.8},{"x":-0.85,"y":3.3},{"x":-0.88,"y":0.4},{"x":-0.74,"y":-8.2},{"x":-0.71,"y":-4},{"x":-0.64,"y":-8.1},{"x":-0.53,"y":-8.4},{"x":-0.52,"y":-8.9},{"x":-0.47,"y":9.6},{"x":-0.4,"y":-11.2},{"x":-0.38,"y":-11.2},{"x":-0.32,"y":7},{"x":-0.28,"y":7.7},{"x":-0.23,"y":-9.6},{"x":-0.18,"y":9.7},{"x":-0.1,"y":-10.9},{"x":-0.07,"y":11.9},{"x":-0.04,"y":8.6},{"x":0,"y":-9.9},{"x":0.06,"y":-9.2},{"x":0.15,"y":10.4},{"x":0.19,"y":9.9},{"x":0.22,"y":-10.9},{"x":0.26,"y":-11.9},{"x":0.28,"y":8.6},{"x":0.32,"y":-8.1},{"x":0.47,"y":8.3},{"x":0.55,"y":8.7},{"x":0.62,"y":8},{"x":0.74,"y":10.1},{"x":0.76,"y":14.3},{"x":0.87,"y":12.1},{"x":0.8,"y":-12.6},{"x":0.94,"y":-13.8},{"x":0.7,"y":-8.5},{"x":0.83,"y":-6.5},{"x":0.87,"y":-4},{"x":0.87,"y":4.5},{"x":0.98,"y":5},{"x":0.92,"y":1.8},{"x":1.04,"y":2.3},{"x":1.06,"y":2.6},{"x":1.14,"y":1.4},{"x":1.11,"y":1.7},{"x":1.03,"y":-3.2},{"x":1.06,"y":-3.7},{"x":1.09,"y":-1.9},{"x":0.98,"y":-0.2},{"x":0.99,"y":-0.7},{"x":0.88,"y":0.9},{"x":0.87,"y":-2.1},
{"x":-0.35,"y":7.1},{"x":-0.18,"y":6.8},{"x":0,"y":7.3},{"x":0.15,"y":6.9},{"x":0.3,"y":7.2},{"x":-0.5,"y":6.5},{"x":0.45,"y":6.6},
{"x":-0.6,"y":5.4},{"x":-0.46,"y":5.8},{"x":-0.33,"y":5.2},{"x":-0.2,"y":5.6},{"x":-0.07,"y":5.3},{"x":0.06,"y":5.7},{"x":0.19,"y":5.1},{"x":0.32,"y":5.5},{"x":0.46,"y":5.2},{"x":0.58,"y":5.6},
{"x":-0.68,"y":4.1},{"x":-0.55,"y":3.8},{"x":-0.42,"y":4.3},{"x":-0.3,"y":3.9},{"x":-0.17,"y":4.2},{"x":-0.05,"y":3.7},{"x":0.07,"y":4.1},{"x":0.19,"y":3.8},{"x":0.31,"y":4.3},{"x":0.44,"y":3.9},{"x":0.56,"y":4.2},{"x":0.68,"y":3.7},
{"x":-0.75,"y":2.4},{"x":-0.61,"y":2.7},{"x":-0.49,"y":2.2},{"x":-0.36,"y":2.6},{"x":-0.24,"y":2.3},{"x":-0.12,"y":2.8},{"x":0,"y":2.4},{"x":0.12,"y":2.7},{"x":0.24,"y":2.2},{"x":0.36,"y":2.6},{"x":0.49,"y":2.3},{"x":0.62,"y":2.7},{"x":0.74,"y":2.4},
{"x":-0.82,"y":1.1},{"x":-0.68,"y":0.8},{"x":-0.55,"y":1.2},{"x":-0.43,"y":0.9},{"x":-0.3,"y":1.3},{"x":-0.18,"y":0.8},{"x":-0.06,"y":1.1},{"x":0.06,"y":0.7},{"x":0.18,"y":1.2},{"x":0.3,"y":0.9},{"x":0.42,"y":1.3},{"x":0.55,"y":0.8},{"x":0.68,"y":1.1},
{"x":-0.78,"y":-0.4},{"x":-0.64,"y":-0.7},{"x":-0.51,"y":-0.3},{"x":-0.38,"y":-0.6},{"x":-0.26,"y":-0.4},{"x":-0.14,"y":-0.8},{"x":-0.02,"y":-0.5},{"x":0.1,"y":-0.3},{"x":0.22,"y":-0.7},{"x":0.34,"y":-0.4},{"x":0.47,"y":-0.6},{"x":0.6,"y":-0.3},{"x":0.72,"y":-0.7},
{"x":-0.73,"y":-2.1},{"x":-0.6,"y":-1.8},{"x":-0.47,"y":-2.3},{"x":-0.34,"y":-1.9},{"x":-0.22,"y":-2.2},{"x":-0.1,"y":-1.7},{"x":0.02,"y":-2.4},{"x":0.14,"y":-2},{"x":0.26,"y":-1.8},{"x":0.38,"y":-2.3},{"x":0.51,"y":-1.9},{"x":0.64,"y":-2.2},
{"x":-0.68,"y":-3.6},{"x":-0.55,"y":-3.3},{"x":-0.42,"y":-3.8},{"x":-0.29,"y":-3.4},{"x":-0.17,"y":-3.7},{"x":-0.05,"y":-3.2},{"x":0.07,"y":-3.9},{"x":0.19,"y":-3.5},{"x":0.31,"y":-3.3},{"x":0.44,"y":-3.8},{"x":0.57,"y":-3.5},
{"x":-0.6,"y":-5.1},{"x":-0.47,"y":-4.8},{"x":-0.35,"y":-5.3},{"x":-0.22,"y":-4.9},{"x":-0.1,"y":-5.4},{"x":0.02,"y":-5},{"x":0.14,"y":-4.7},{"x":0.26,"y":-5.2},{"x":0.39,"y":-4.9},{"x":0.52,"y":-5.3},
{"x":-0.5,"y":-6.4},{"x":-0.36,"y":-6.7},{"x":-0.22,"y":-6.3},{"x":-0.09,"y":-6.8},{"x":0.04,"y":-6.5},{"x":0.17,"y":-6.9},{"x":0.3,"y":-6.4},{"x":0.44,"y":-6.6},
{"x":-0.3,"y":-7.9},{"x":-0.12,"y":-8.2},{"x":0.1,"y":-7.8},{"x":0.25,"y":-8.1},
{"x":-0.52,"y":4.8},{"x":-0.38,"y":4.7},{"x":-0.25,"y":4.9},{"x":-0.12,"y":4.8},{"x":0,"y":4.7},{"x":0.13,"y":4.9},{"x":0.26,"y":4.8},{"x":0.38,"y":4.7},{"x":0.52,"y":4.9},
{"x":-0.62,"y":3.2},{"x":-0.48,"y":3.1},{"x":-0.36,"y":3.3},{"x":-0.23,"y":3.2},{"x":-0.11,"y":3.1},{"x":0.01,"y":3.3},{"x":0.13,"y":3.2},{"x":0.25,"y":3.1},{"x":0.37,"y":3.3},{"x":0.5,"y":3.2},{"x":0.62,"y":3.1},
{"x":-0.68,"y":1.8},{"x":-0.55,"y":1.7},{"x":-0.42,"y":1.9},{"x":-0.3,"y":1.8},{"x":-0.18,"y":1.7},{"x":-0.06,"y":1.9},{"x":0.06,"y":1.8},{"x":0.18,"y":1.7},{"x":0.3,"y":1.9},{"x":0.43,"y":1.8},{"x":0.56,"y":1.7},
{"x":-0.7,"y":0.3},{"x":-0.57,"y":0.2},{"x":-0.45,"y":0.4},{"x":-0.32,"y":0.3},{"x":-0.2,"y":0.2},{"x":-0.08,"y":0.4},{"x":0.04,"y":0.3},{"x":0.16,"y":0.2},{"x":0.28,"y":0.4},{"x":0.4,"y":0.3},{"x":0.53,"y":0.2},{"x":0.66,"y":0.4},
{"x":-0.67,"y":-1.2},{"x":-0.54,"y":-1.3},{"x":-0.41,"y":-1.1},{"x":-0.28,"y":-1.2},{"x":-0.16,"y":-1.3},{"x":-0.04,"y":-1.1},{"x":0.08,"y":-1.2},{"x":0.2,"y":-1.3},{"x":0.32,"y":-1.1},{"x":0.45,"y":-1.2},{"x":0.58,"y":-1.3},
{"x":-0.61,"y":-2.8},{"x":-0.48,"y":-2.7},{"x":-0.35,"y":-2.9},{"x":-0.23,"y":-2.8},{"x":-0.11,"y":-2.7},{"x":0.01,"y":-2.9},{"x":0.13,"y":-2.8},{"x":0.25,"y":-2.7},{"x":0.37,"y":-2.9},{"x":0.5,"y":-2.8},
{"x":-0.53,"y":-4.3},{"x":-0.4,"y":-4.2},{"x":-0.28,"y":-4.4},{"x":-0.16,"y":-4.3},{"x":-0.04,"y":-4.2},{"x":0.08,"y":-4.4},{"x":0.2,"y":-4.3},{"x":0.33,"y":-4.2},{"x":0.46,"y":-4.4},
{"x":-0.42,"y":-5.8},{"x":-0.28,"y":-5.7},{"x":-0.15,"y":-5.9},{"x":-0.02,"y":-5.8},{"x":0.11,"y":-5.7},{"x":0.24,"y":-5.9},{"x":0.37,"y":-5.8},
{"x":-0.4,"y":5.9},{"x":-0.13,"y":6.2},{"x":0.1,"y":6.1},{"x":0.24,"y":5.9},{"x":-0.45,"y":4.3},{"x":-0.32,"y":4.5},{"x":-0.1,"y":4.5},{"x":0.13,"y":4.4},{"x":0.25,"y":4.6},{"x":0.4,"y":4.4},{"x":-0.43,"y":2.9},{"x":-0.3,"y":3},{"x":-0.17,"y":2.9},{"x":0.07,"y":3},{"x":0.19,"y":2.9},{"x":0.31,"y":3},{"x":0.44,"y":2.9},{"x":-0.37,"y":1.5},{"x":-0.25,"y":1.4},{"x":-0.12,"y":1.5},{"x":0,"y":1.4},{"x":0.12,"y":1.5},{"x":0.24,"y":1.4},{"x":0.36,"y":1.5},{"x":-0.44,"y":0},{"x":-0.26,"y":-0.1},{"x":-0.14,"y":0},{"x":-0.02,"y":-0.1},{"x":0.1,"y":0},{"x":0.22,"y":-0.1},{"x":0.34,"y":0},{"x":0.46,"y":-0.1},{"x":-0.4,"y":-1.5},{"x":-0.28,"y":-1.6},{"x":-0.16,"y":-1.5},{"x":0.08,"y":-1.6},{"x":0.2,"y":-1.5},{"x":0.32,"y":-1.6},{"x":-0.36,"y":-3.2},{"x":-0.23,"y":-3.1},{"x":-0.11,"y":-3.2},{"x":0.13,"y":-3.1},{"x":0.25,"y":-3.2},{"x":0.37,"y":-3.1},{"x":-0.3,"y":-4.6},{"x":-0.16,"y":-4.5},{"x":0,"y":-4.6},{"x":0.2,"y":-4.5},{"x":0.3,"y":-4.6}],
"e": [{"x":-1.13,"y":-4.8},{"x":-1.07,"y":-2.2},{"x":-1.1,"y":2.5},{"x":-0.99,"y":0.6},{"x":-0.97,"y":-1.6},{"x":-0.95,"y":-1.9},{"x":-0.93,"y":-0.8},{"x":-0.93,"y":1.4},{"x":-0.9,"y":1.6},{"x":-0.86,"y":2.7},{"x":-0.84,"y":1},{"x":-0.8,"y":-0.2},{"x":-0.74,"y":-2.2},{"x":-0.72,"y":-3.3},{"x":-0.7,"y":2.9},{"x":-0.64,"y":3.6},{"x":-0.58,"y":3.5},{"x":-0.54,"y":4.1},{"x":-0.57,"y":-3.8},{"x":-0.51,"y":-3.8},{"x":-0.46,"y":-3},{"x":-0.44,"y":5.1},{"x":-0.42,"y":5},{"x":-0.4,"y":6.1},{"x":-0.36,"y":-5.5},{"x":-0.34,"y":4.6},{"x":-0.31,"y":-5},{"x":-0.29,"y":4.3},{"x":-0.27,"y":-4.2},{"x":-0.25,"y":5.4},{"x":-0.21,"y":8.3},{"x":-0.2,"y":-5.3},{"x":-0.12,"y":4.5},{"x":-0.1,"y":5.3},{"x":-0.08,"y":5.2},{"x":-0.05,"y":8.8},{"x":-0.04,"y":-5.3},{"x":-0.03,"y":-4.6},{"x":0.03,"y":5.2},{"x":0.06,"y":5.6},{"x":0.1,"y":-4.8},{"x":0.14,"y":4.7},{"x":0.23,"y":4.6},{"x":0.25,"y":-4.6},{"x":0.35,"y":-4.5},{"x":0.41,"y":4.5},{"x":0.45,"y":4.5},{"x":0.47,"y":-5},{"x":0.53,"y":3.8},{"x":0.6,"y":3.7},{"x":0.62,"y":-4.4},{"x":0.62,"y":-5.2},{"x":0.68,"y":3.9},{"x":0.68,"y":-4.2},{"x":0.72,"y":4.6},{"x":0.66,"y":2.5},{"x":0.75,"y":0.4},{"x":0.77,"y":-1.7},{"x":0.82,"y":-3.4},{"x":0.86,"y":2.9},{"x":0.9,"y":-3.4},{"x":0.91,"y":-5.1},{"x":0.97,"y":-5.4},{"x":0.78,"y":-2.8},{"x":0.84,"y":-2.7},{"x":0.9,"y":0.6},{"x":0.95,"y":-0.1},{"x":0.95,"y":-1.6},{"x":0.97,"y":-1.7},{"x":1.01,"y":-1.3},{"x":1.02,"y":-0.5},{"x":1.05,"y":0.8},{"x":1.09,"y":0.8},{"x":1.11,"y":-0.8},{"x":1.55,"y":1.1},{"x":1.53,"y":-3.2},
{"x":-0.38,"y":3.3},{"x":-0.22,"y":3.6},{"x":-0.05,"y":3.2},{"x":0.1,"y":3.5},{"x":0.26,"y":3.1},{"x":0.4,"y":3.4},{"x":-0.5,"y":3},
{"x":-0.6,"y":2.4},{"x":-0.46,"y":2.7},{"x":-0.33,"y":2.3},{"x":-0.2,"y":2.6},{"x":-0.07,"y":2.2},{"x":0.06,"y":2.7},{"x":0.18,"y":2.4},{"x":0.31,"y":2.6},{"x":0.44,"y":2.2},{"x":0.57,"y":2.5},
{"x":-0.68,"y":1.6},{"x":-0.55,"y":1.3},{"x":-0.42,"y":1.7},{"x":-0.3,"y":1.4},{"x":-0.17,"y":1.8},{"x":-0.05,"y":1.3},{"x":0.07,"y":1.6},{"x":0.19,"y":1.4},{"x":0.31,"y":1.8},{"x":0.44,"y":1.3},{"x":0.56,"y":1.6},{"x":0.68,"y":1.4},
{"x":-0.76,"y":0.6},{"x":-0.62,"y":0.8},{"x":-0.5,"y":0.4},{"x":-0.37,"y":0.7},{"x":-0.25,"y":0.5},{"x":-0.13,"y":0.9},{"x":-0.01,"y":0.5},{"x":0.11,"y":0.8},{"x":0.23,"y":0.4},{"x":0.35,"y":0.7},{"x":0.48,"y":0.5},{"x":0.6,"y":0.8},{"x":0.72,"y":0.5},
{"x":-0.72,"y":-0.2},{"x":-0.59,"y":-0.4},{"x":-0.46,"y":-0.1},{"x":-0.33,"y":-0.3},{"x":-0.21,"y":-0.5},{"x":-0.09,"y":-0.2},{"x":0.03,"y":-0.4},{"x":0.15,"y":-0.1},{"x":0.27,"y":-0.5},{"x":0.39,"y":-0.3},{"x":0.52,"y":-0.2},{"x":0.65,"y":-0.4},
{"x":-0.7,"y":-1.2},{"x":-0.57,"y":-1},{"x":-0.44,"y":-1.4},{"x":-0.31,"y":-1.1},{"x":-0.19,"y":-1.3},{"x":-0.07,"y":-0.9},{"x":0.05,"y":-1.4},{"x":0.17,"y":-1.1},{"x":0.29,"y":-1.3},{"x":0.42,"y":-1},{"x":0.55,"y":-1.4},{"x":0.68,"y":-1.1},
{"x":-0.63,"y":-2.1},{"x":-0.5,"y":-1.9},{"x":-0.37,"y":-2.3},{"x":-0.25,"y":-2},{"x":-0.13,"y":-2.2},{"x":-0.01,"y":-1.8},{"x":0.11,"y":-2.3},{"x":0.23,"y":-2},{"x":0.36,"y":-2.2},{"x":0.49,"y":-1.9},{"x":0.62,"y":-2.3},
{"x":-0.55,"y":-3},{"x":-0.42,"y":-2.8},{"x":-0.3,"y":-3.2},{"x":-0.18,"y":-2.9},{"x":-0.06,"y":-3.3},{"x":0.06,"y":-2.9},{"x":0.18,"y":-3.1},{"x":0.3,"y":-2.7},{"x":0.43,"y":-3.2},{"x":0.56,"y":-2.9},
{"x":-0.45,"y":-3.9},{"x":-0.3,"y":-4.1},{"x":-0.15,"y":-3.8},{"x":0,"y":-4.2},{"x":0.14,"y":-3.9},{"x":0.28,"y":-4.1},{"x":0.4,"y":-3.8},
{"x":-0.45,"y":2.9},{"x":-0.3,"y":2.9},{"x":-0.14,"y":3},{"x":0,"y":2.9},{"x":0.15,"y":2.8},{"x":0.3,"y":3},{"x":0.45,"y":2.9},
{"x":-0.53,"y":2},{"x":-0.4,"y":2.1},{"x":-0.26,"y":1.9},{"x":-0.13,"y":2},{"x":0,"y":2.1},{"x":0.12,"y":1.9},{"x":0.25,"y":2},{"x":0.38,"y":2.1},{"x":0.5,"y":1.9},{"x":0.62,"y":2},
{"x":-0.62,"y":1.1},{"x":-0.49,"y":1},{"x":-0.36,"y":1.2},{"x":-0.24,"y":1.1},{"x":-0.11,"y":1},{"x":0.01,"y":1.2},{"x":0.13,"y":1.1},{"x":0.25,"y":1},{"x":0.38,"y":1.2},{"x":0.5,"y":1.1},{"x":0.62,"y":1},
{"x":-0.66,"y":0.1},{"x":-0.53,"y":0.2},{"x":-0.4,"y":0},{"x":-0.28,"y":0.1},{"x":-0.15,"y":0.2},{"x":-0.04,"y":0},{"x":0.08,"y":0.1},{"x":0.2,"y":0.2},{"x":0.33,"y":0},{"x":0.45,"y":0.1},{"x":0.58,"y":0.2},
{"x":-0.64,"y":-0.8},{"x":-0.51,"y":-0.7},{"x":-0.38,"y":-0.9},{"x":-0.26,"y":-0.8},{"x":-0.13,"y":-0.7},{"x":-0.01,"y":-0.8},{"x":0.11,"y":-0.7},{"x":0.23,"y":-0.9},{"x":0.35,"y":-0.8},{"x":0.48,"y":-0.7},{"x":0.6,"y":-0.8},
{"x":-0.6,"y":-1.7},{"x":-0.47,"y":-1.6},{"x":-0.34,"y":-1.8},{"x":-0.22,"y":-1.7},{"x":-0.1,"y":-1.6},{"x":0.02,"y":-1.8},{"x":0.14,"y":-1.7},{"x":0.27,"y":-1.6},{"x":0.4,"y":-1.8},{"x":0.53,"y":-1.7},
{"x":-0.52,"y":-2.5},{"x":-0.39,"y":-2.6},{"x":-0.26,"y":-2.4},{"x":-0.13,"y":-2.5},{"x":0,"y":-2.6},{"x":0.12,"y":-2.4},{"x":0.25,"y":-2.5},{"x":0.38,"y":-2.6},{"x":0.5,"y":-2.4},
{"x":-0.38,"y":-3.5},{"x":-0.23,"y":-3.6},{"x":-0.09,"y":-3.4},{"x":0.05,"y":-3.5},{"x":0.2,"y":-3.6},{"x":0.34,"y":-3.4},
{"x":-0.32,"y":3.6},{"x":-0.1,"y":3.8},{"x":0.15,"y":3.7},{"x":0.3,"y":3.5},{"x":-0.4,"y":2.5},{"x":-0.27,"y":2.4},{"x":-0.13,"y":2.5},{"x":0,"y":2.4},{"x":0.13,"y":2.5},{"x":0.25,"y":2.4},{"x":0.4,"y":2.5},{"x":-0.43,"y":1.5},{"x":-0.3,"y":1.6},{"x":-0.11,"y":1.5},{"x":0.01,"y":1.6},{"x":0.13,"y":1.5},{"x":0.25,"y":1.6},{"x":0.38,"y":1.5},{"x":-0.44,"y":0.5},{"x":-0.3,"y":0.6},{"x":-0.18,"y":0.5},{"x":-0.07,"y":0.7},{"x":0.05,"y":0.6},{"x":0.17,"y":0.5},{"x":0.29,"y":0.6},{"x":0.41,"y":0.5},{"x":-0.39,"y":-0.4},{"x":-0.27,"y":-0.3},{"x":-0.15,"y":-0.4},{"x":-0.03,"y":-0.3},{"x":0.09,"y":-0.4},{"x":0.21,"y":-0.3},{"x":0.33,"y":-0.4},{"x":0.45,"y":-0.3},{"x":-0.38,"y":-1.3},{"x":-0.25,"y":-1.2},{"x":-0.13,"y":-1.3},{"x":-0.01,"y":-1.2},{"x":0.11,"y":-1.3},{"x":0.23,"y":-1.2},{"x":0.36,"y":-1.3},{"x":-0.31,"y":-2.2},{"x":-0.19,"y":-2.1},{"x":-0.07,"y":-2.2},{"x":0.05,"y":-2.1},{"x":0.17,"y":-2.2},{"x":0.3,"y":-2.1},{"x":-0.24,"y":-3},{"x":-0.12,"y":-3.1},{"x":0,"y":-3},{"x":0.12,"y":-3.1},{"x":0.24,"y":-3}],
"f": [{"x":-1.1,"y":0.333},{"x":-1.13,"y":-0.168},{"x":-1.07,"y":-0.084},{"x":-0.98,"y":0.105},{"x":-0.97,"y":0.09},{"x":-0.94,"y":0.072},{"x":-0.93,"y":0.054},{"x":-0.9,"y":0.17},{"x":-0.85,"y":0.129},{"x":-0.79,"y":0.105},{"x":-0.8,"y":-0.054},{"x":-0.74,"y":-0.153},{"x":-0.71,"y":-0.144},{"x":-0.65,"y":0.174},{"x":-0.69,"y":0.122},{"x":-0.57,"y":0.246},{"x":-0.54,"y":0.24},{"x":-0.52,"y":0.198},{"x":-0.49,"y":-0.218},{"x":-0.43,"y":0.309},{"x":-0.41,"y":0.275},{"x":-0.39,"y":0.261},{"x":-0.43,"y":-0.18},{"x":-0.32,"y":-0.254},{"x":-0.3,"y":-0.204},{"x":-0.25,"y":-0.257},{"x":-0.22,"y":0.269},{"x":-0.15,"y":0.297},{"x":-0.08,"y":-0.234},{"x":-0.07,"y":0.225},{"x":0.07,"y":-0.246},{"x":0.08,"y":-0.326},{"x":0.15,"y":0.251},{"x":0.19,"y":0.377},{"x":0.2,"y":-0.343},{"x":0.21,"y":-0.251},{"x":0.23,"y":-0.263},{"x":0.22,"y":0.234},{"x":0.29,"y":0.192},{"x":0.35,"y":-0.234},{"x":0.37,"y":-0.225},{"x":0.45,"y":0.246},{"x":0.47,"y":0.21},{"x":0.47,"y":-0.246},{"x":0.45,"y":-0.165},{"x":0.61,"y":-0.257},{"x":0.61,"y":-0.168},{"x":0.74,"y":0.234},{"x":0.7,"y":0.186},{"x":0.72,"y":0.15},{"x":0.76,"y":-0.102},{"x":0.76,"y":-0.18},{"x":0.78,"y":-0.096},{"x":0.88,"y":0.086},{"x":0.9,"y":-0.06},{"x":0.92,"y":-0.162},{"x":0.95,"y":-0.03},{"x":0.98,"y":-0.066},{"x":0.96,"y":-0.09},{"x":1.02,"y":0.034},{"x":1.05,"y":-0.072},{"x":1.06,"y":-0.168},{"x":1.1,"y":0.006},{"x":1.12,"y":0.026},{"x":1.57,"y":0.122},{"x":1.55,"y":-0.075},{"x":0.8,"y":0.012},{"x":0.82,"y":0.03},
{"x":-0.42,"y":0.17},{"x":-0.27,"y":0.19},{"x":-0.12,"y":0.16},{"x":0.03,"y":0.18},{"x":0.18,"y":0.15},{"x":0.32,"y":0.19},{"x":0.46,"y":0.16},{"x":-0.55,"y":0.15},
{"x":-0.6,"y":0.12},{"x":-0.47,"y":0.13},{"x":-0.34,"y":0.11},{"x":-0.21,"y":0.14},{"x":-0.08,"y":0.12},{"x":0.05,"y":0.1},{"x":0.17,"y":0.13},{"x":0.3,"y":0.11},{"x":0.43,"y":0.14},{"x":0.56,"y":0.12},
{"x":-0.68,"y":0.07},{"x":-0.55,"y":0.08},{"x":-0.42,"y":0.06},{"x":-0.29,"y":0.09},{"x":-0.17,"y":0.07},{"x":-0.05,"y":0.08},{"x":0.07,"y":0.06},{"x":0.19,"y":0.09},{"x":0.32,"y":0.07},{"x":0.45,"y":0.08},{"x":0.58,"y":0.06},
{"x":-0.75,"y":0.03},{"x":-0.61,"y":0.02},{"x":-0.48,"y":0.04},{"x":-0.35,"y":0.02},{"x":-0.23,"y":0.03},{"x":-0.11,"y":0.01},{"x":0.01,"y":0.04},{"x":0.13,"y":0.02},{"x":0.25,"y":0.03},{"x":0.37,"y":0.01},{"x":0.5,"y":0.04},{"x":0.63,"y":0.02},
{"x":-0.72,"y":-0.02},{"x":-0.58,"y":-0.01},{"x":-0.45,"y":-0.03},{"x":-0.32,"y":-0.01},{"x":-0.2,"y":-0.02},{"x":-0.08,"y":-0.04},{"x":0.04,"y":-0.01},{"x":0.16,"y":-0.03},{"x":0.28,"y":-0.02},{"x":0.4,"y":-0.04},{"x":0.53,"y":-0.01},{"x":0.66,"y":-0.03},
{"x":-0.66,"y":-0.06},{"x":-0.53,"y":-0.07},{"x":-0.4,"y":-0.05},{"x":-0.27,"y":-0.08},{"x":-0.15,"y":-0.06},{"x":-0.03,"y":-0.07},{"x":0.09,"y":-0.05},{"x":0.21,"y":-0.08},{"x":0.33,"y":-0.06},{"x":0.46,"y":-0.07},{"x":0.6,"y":-0.05},
{"x":-0.6,"y":-0.1},{"x":-0.47,"y":-0.11},{"x":-0.35,"y":-0.09},{"x":-0.22,"y":-0.12},{"x":-0.1,"y":-0.1},{"x":0.02,"y":-0.11},{"x":0.14,"y":-0.09},{"x":0.26,"y":-0.12},{"x":0.39,"y":-0.1},{"x":0.52,"y":-0.11},
{"x":-0.52,"y":-0.14},{"x":-0.39,"y":-0.15},{"x":-0.26,"y":-0.13},{"x":-0.13,"y":-0.16},{"x":0,"y":-0.14},{"x":0.12,"y":-0.15},{"x":0.25,"y":-0.13},{"x":0.38,"y":-0.16},
{"x":-0.4,"y":-0.19},{"x":-0.24,"y":-0.2},{"x":-0.08,"y":-0.18},{"x":0.08,"y":-0.2},{"x":0.22,"y":-0.19},{"x":-0.15,"y":-0.22},
{"x":-0.48,"y":0.145},{"x":-0.35,"y":0.15},{"x":-0.2,"y":0.14},{"x":-0.05,"y":0.145},{"x":0.1,"y":0.15},{"x":0.24,"y":0.14},{"x":0.38,"y":0.145},
{"x":-0.53,"y":0.095},{"x":-0.4,"y":0.1},{"x":-0.28,"y":0.09},{"x":-0.15,"y":0.095},{"x":-0.02,"y":0.1},{"x":0.11,"y":0.09},{"x":0.23,"y":0.095},{"x":0.36,"y":0.1},{"x":0.5,"y":0.09},
{"x":-0.62,"y":0.05},{"x":-0.49,"y":0.045},{"x":-0.36,"y":0.055},{"x":-0.23,"y":0.05},{"x":-0.11,"y":0.045},{"x":0.01,"y":0.055},{"x":0.13,"y":0.05},{"x":0.26,"y":0.045},{"x":0.38,"y":0.055},{"x":0.51,"y":0.05},{"x":0.64,"y":0.045},
{"x":-0.66,"y":0.005},{"x":-0.53,"y":0.01},{"x":-0.4,"y":0},{"x":-0.27,"y":0.005},{"x":-0.15,"y":0.01},{"x":-0.03,"y":0},{"x":0.09,"y":0.005},{"x":0.21,"y":0.01},{"x":0.33,"y":0},{"x":0.45,"y":0.005},{"x":0.58,"y":0.01},
{"x":-0.63,"y":-0.04},{"x":-0.5,"y":-0.045},{"x":-0.37,"y":-0.035},{"x":-0.24,"y":-0.04},{"x":-0.12,"y":-0.045},{"x":0,"y":-0.035},{"x":0.12,"y":-0.04},{"x":0.24,"y":-0.045},{"x":0.37,"y":-0.035},{"x":0.5,"y":-0.04},
{"x":-0.58,"y":-0.08},{"x":-0.45,"y":-0.085},{"x":-0.32,"y":-0.075},{"x":-0.2,"y":-0.08},{"x":-0.07,"y":-0.085},{"x":0.05,"y":-0.075},{"x":0.17,"y":-0.08},{"x":0.3,"y":-0.085},{"x":0.43,"y":-0.075},{"x":0.56,"y":-0.08},
{"x":-0.5,"y":-0.12},{"x":-0.37,"y":-0.125},{"x":-0.24,"y":-0.115},{"x":-0.11,"y":-0.12},{"x":0.02,"y":-0.125},{"x":0.15,"y":-0.115},{"x":0.28,"y":-0.12},{"x":0.42,"y":-0.125},
{"x":-0.42,"y":-0.165},{"x":-0.28,"y":-0.17},{"x":-0.14,"y":-0.16},{"x":0,"y":-0.165},{"x":0.14,"y":-0.17},{"x":0.28,"y":-0.16},
{"x":-0.35,"y":0.175},{"x":-0.12,"y":0.185},{"x":0.1,"y":0.17},{"x":0.26,"y":0.17},{"x":-0.42,"y":0.12},{"x":-0.28,"y":0.125},{"x":-0.15,"y":0.12},{"x":0,"y":0.125},{"x":0.12,"y":0.12},{"x":0.25,"y":0.125},{"x":0.38,"y":0.12},{"x":-0.44,"y":0.075},{"x":-0.35,"y":0.08},{"x":-0.23,"y":0.075},{"x":-0.1,"y":0.08},{"x":0.02,"y":0.075},{"x":0.14,"y":0.08},{"x":0.26,"y":0.075},{"x":0.4,"y":0.08},{"x":-0.42,"y":0.025},{"x":-0.3,"y":0.03},{"x":-0.17,"y":0.025},{"x":-0.05,"y":0.03},{"x":0.07,"y":0.025},{"x":0.19,"y":0.03},{"x":0.31,"y":0.025},{"x":0.43,"y":0.03},{"x":-0.38,"y":-0.02},{"x":-0.26,"y":-0.015},{"x":-0.14,"y":-0.02},{"x":-0.02,"y":-0.015},{"x":0.1,"y":-0.02},{"x":0.22,"y":-0.015},{"x":0.34,"y":-0.02},{"x":0.46,"y":-0.015},{"x":-0.43,"y":-0.06},{"x":-0.3,"y":-0.065},{"x":-0.18,"y":-0.06},{"x":-0.06,"y":-0.065},{"x":0.06,"y":-0.06},{"x":0.18,"y":-0.065},{"x":0.3,"y":-0.06},{"x":0.43,"y":-0.065},{"x":-0.36,"y":-0.1},{"x":-0.24,"y":-0.105},{"x":-0.12,"y":-0.1},{"x":0,"y":-0.105},{"x":0.12,"y":-0.1},{"x":0.24,"y":-0.105},{"x":0.36,"y":-0.1},{"x":-0.3,"y":-0.14},{"x":-0.17,"y":-0.145},{"x":-0.04,"y":-0.14},{"x":0.09,"y":-0.145},{"x":0.2,"y":-0.14}]
},
"columns": 3,
"align": "none",
"bounds": "flush",
"spacing": {"row": 50, "column": 37},
"concat": [
 {"width": 213, "height": 231, "layer": [
  {"data": {"name": "a"}, "mark": {"type": "circle"},
   "encoding": {"x": {"field": "x", "type": "quantitative", "scale": {"domain": [-1.215, 1.48], "nice": false, "zero": false}, "axis": {"values": [-1, -0.5, 0, 0.5, 1, 1.5], "format": "~r", "title": "Residuals of birth weight (kg)"}},
                "y": {"field": "y", "type": "quantitative", "scale": {"domain": [-31.5, 11.8], "nice": false, "zero": false}, "axis": {"values": [10, 0, -10, -20, -30], "format": "~r", "title": "Age Acceleration (years)"}}}},
  {"data": {"values": [{}]}, "mark": {"type": "rule", "color": "#2e7fd8", "strokeWidth": 2.2}, "encoding": {"x": {"datum": -1.14}, "y": {"datum": -0.3}, "x2": {"datum": 1.48}, "y2": {"datum": 0.25}}},
  {"data": {"values": [{}]}, "mark": {"type": "text", "text": "Horvath", "font": "Lato", "fontSize": 16, "color": "#222"}, "encoding": {"x": {"datum": -0.2}, "y": {"datum": 12.1}}},
  {"data": {"values": [{}]}, "mark": {"type": "text", "text": "a", "font": "Liberation Sans", "fontSize": 22, "color": "#111"}, "encoding": {"x": {"datum": 1.04}, "y": {"datum": 9.76}}},
  {"data": {"values": [{}]}, "mark": {"type": "text", "text": "P<0.601", "font": "Lato", "fontSize": 16, "color": "#222"}, "encoding": {"x": {"datum": 0.886}, "y": {"datum": -28.3}}}
 ]},
 {"width": 228, "height": 225, "layer": [
  {"data": {"name": "b"}, "mark": {"type": "circle"},
   "encoding": {"x": {"field": "x", "type": "quantitative", "scale": {"domain": [-1.2, 1.6], "nice": false, "zero": false}, "axis": {"values": [-1, -0.5, 0, 0.5, 1, 1.5], "format": "~r", "title": "Residuals of birth weight (kg)"}},
                "y": {"field": "y", "type": "quantitative", "scale": {"domain": [-11.36, 11.46], "nice": false, "zero": false}, "axis": {"values": [10, 5, 0, -5, -10], "format": "~r", "title": "Age Acceleration (years)"}}}},
  {"data": {"values": [{}]}, "mark": {"type": "rule", "color": "#2e7fd8", "strokeWidth": 2.2}, "encoding": {"x": {"datum": -1.12}, "y": {"datum": 0.1}, "x2": {"datum": 1.55}, "y2": {"datum": -0.05}}},
  {"data": {"values": [{}]}, "mark": {"type": "text", "text": "Hannum", "font": "Lato", "fontSize": 16, "color": "#222"}, "encoding": {"x": {"datum": 0.115}, "y": {"datum": 11.56}}},
  {"data": {"values": [{}]}, "mark": {"type": "text", "text": "b", "font": "Liberation Sans", "fontSize": 22, "color": "#111"}, "encoding": {"x": {"datum": 1.157}, "y": {"datum": 10.34}}},
  {"data": {"values": [{}]}, "mark": {"type": "text", "text": "P<0.885", "font": "Lato", "fontSize": 16, "color": "#222"}, "encoding": {"x": {"datum": 1.096}, "y": {"datum": -10.34}}}
 ]},
 {"width": 230, "height": 227, "layer": [
  {"data": {"name": "c"}, "mark": {"type": "circle"},
   "encoding": {"x": {"field": "x", "type": "quantitative", "scale": {"domain": [-1.2, 1.6], "nice": false, "zero": false}, "axis": {"values": [-1, -0.5, 0, 0.5, 1, 1.5], "format": "~r", "title": "Residuals of birth weight (kg)"}},
                "y": {"field": "y", "type": "quantitative", "scale": {"domain": [-0.418, 0.415], "nice": false, "zero": false}, "axis": {"values": [0.4, 0.2, 0, -0.2, -0.4], "format": "~r", "title": "DNAm telomere length (kilobase)"}}}},
  {"data": {"values": [{}]}, "mark": {"type": "rule", "color": "#2e7fd8", "strokeWidth": 2.2}, "encoding": {"x": {"datum": -1.12}, "y": {"datum": -0.003}, "x2": {"datum": 1.54}, "y2": {"datum": 0.004}}},
  {"data": {"values": [{}]}, "mark": {"type": "text", "text": "DNAmTL", "font": "Lato", "fontSize": 16, "color": "#222"}, "encoding": {"x": {"datum": 0.073}, "y": {"datum": 0.418}}},
  {"data": {"values": [{}]}, "mark": {"type": "text", "text": "c", "font": "Liberation Sans", "fontSize": 22, "color": "#111"}, "encoding": {"x": {"datum": 1.232}, "y": {"datum": 0.371}}},
  {"data": {"values": [{}]}, "mark": {"type": "text", "text": "P<0.897", "font": "Lato", "fontSize": 16, "color": "#222"}, "encoding": {"x": {"datum": 1.11}, "y": {"datum": -0.371}}}
 ]},
 {"width": 213, "height": 227, "layer": [
  {"data": {"name": "d"}, "mark": {"type": "circle"},
   "encoding": {"x": {"field": "x", "type": "quantitative", "scale": {"domain": [-1.166, 1.55], "nice": false, "zero": false}, "axis": {"values": [-1, -0.5, 0, 0.5, 1, 1.5], "format": "~r", "title": "Residuals of birth weight (kg)"}},
                "y": {"field": "y", "type": "quantitative", "scale": {"domain": [-21.06, 22.0], "nice": false, "zero": false}, "axis": {"values": [20, 10, 0, -10, -20], "format": "~r", "title": "Age Acceleration (years)"}}}},
  {"data": {"values": [{}]}, "mark": {"type": "rule", "color": "#2e7fd8", "strokeWidth": 2.2}, "encoding": {"x": {"datum": -1.1}, "y": {"datum": -0.25}, "x2": {"datum": 1.54}, "y2": {"datum": 0.5}}},
  {"data": {"values": [{}]}, "mark": {"type": "text", "text": "DNAmPhenoAge", "font": "Lato", "fontSize": 16, "color": "#222"}, "encoding": {"x": {"datum": -0.082}, "y": {"datum": 22.8}}},
  {"data": {"values": [{}]}, "mark": {"type": "text", "text": "d", "font": "Liberation Sans", "fontSize": 22, "color": "#111"}, "encoding": {"x": {"datum": 1.105}, "y": {"datum": 19.5}}},
  {"data": {"values": [{}]}, "mark": {"type": "text", "text": "P<0.470", "font": "Lato", "fontSize": 16, "color": "#222"}, "encoding": {"x": {"datum": 0.964}, "y": {"datum": -19.0}}}
 ]},
 {"width": 228, "height": 233, "layer": [
  {"data": {"name": "e"}, "mark": {"type": "circle"},
   "encoding": {"x": {"field": "x", "type": "quantitative", "scale": {"domain": [-1.2, 1.6], "nice": false, "zero": false}, "axis": {"values": [-1, -0.5, 0, 0.5, 1, 1.5], "format": "~r", "title": "Residuals of birth weight (kg)"}},
                "y": {"field": "y", "type": "quantitative", "scale": {"domain": [-6.05, 10.53], "nice": false, "zero": false}, "axis": {"values": [10, 5, 0, -5], "format": "~r", "title": "Age Acceleration (years)"}}}},
  {"data": {"values": [{}]}, "mark": {"type": "rule", "color": "#2e7fd8", "strokeWidth": 2.2}, "encoding": {"x": {"datum": -1.12}, "y": {"datum": 0.3}, "x2": {"datum": 1.56}, "y2": {"datum": -0.45}}},
  {"data": {"values": [{}]}, "mark": {"type": "text", "text": "DNAmGrimAge", "font": "Lato", "fontSize": 16, "color": "#222"}, "encoding": {"x": {"datum": 0.084}, "y": {"datum": 10.46}}},
  {"data": {"values": [{}]}, "mark": {"type": "text", "text": "e", "font": "Liberation Sans", "fontSize": 22, "color": "#111"}, "encoding": {"x": {"datum": 1.167}, "y": {"datum": 9.17}}},
  {"data": {"values": [{}]}, "mark": {"type": "text", "text": "P<0.143", "font": "Lato", "fontSize": 16, "color": "#222"}, "encoding": {"x": {"datum": 1.167}, "y": {"datum": -5.19}}}
 ]},
 {"width": 230, "height": 227, "layer": [
  {"data": {"name": "f"}, "mark": {"type": "circle"},
   "encoding": {"x": {"field": "x", "type": "quantitative", "scale": {"domain": [-1.2, 1.6], "nice": false, "zero": false}, "axis": {"values": [-1, -0.5, 0, 0.5, 1, 1.5], "format": "~r", "title": "Residuals of birth weight (kg)"}},
                "y": {"field": "y", "type": "quantitative", "scale": {"domain": [-0.419, 0.4007], "nice": false, "zero": false}, "axis": {"values": [0.4, 0.2, 0, -0.2, -0.4], "format": "~r", "title": "Biological years/Chronological years"}}}},
  {"data": {"values": [{}]}, "mark": {"type": "rule", "color": "#2e7fd8", "strokeWidth": 2.2}, "encoding": {"x": {"datum": -1.13}, "y": {"datum": 0.015}, "x2": {"datum": 1.57}, "y2": {"datum": -0.017}}},
  {"data": {"values": [{}]}, "mark": {"type": "text", "text": "DunedinPACE", "font": "Lato", "fontSize": 16, "color": "#222"}, "encoding": {"x": {"datum": 0.11}, "y": {"datum": 0.404}}},
  {"data": {"values": [{}]}, "mark": {"type": "text", "text": "f", "font": "Liberation Sans", "fontSize": 22, "color": "#111"}, "encoding": {"x": {"datum": 1.183}, "y": {"datum": 0.35}}},
  {"data": {"values": [{}]}, "mark": {"type": "text", "text": "P<0.221", "font": "Lato", "fontSize": 16, "color": "#222"}, "encoding": {"x": {"datum": 1.159}, "y": {"datum": -0.383}}}
 ]}
]
}
